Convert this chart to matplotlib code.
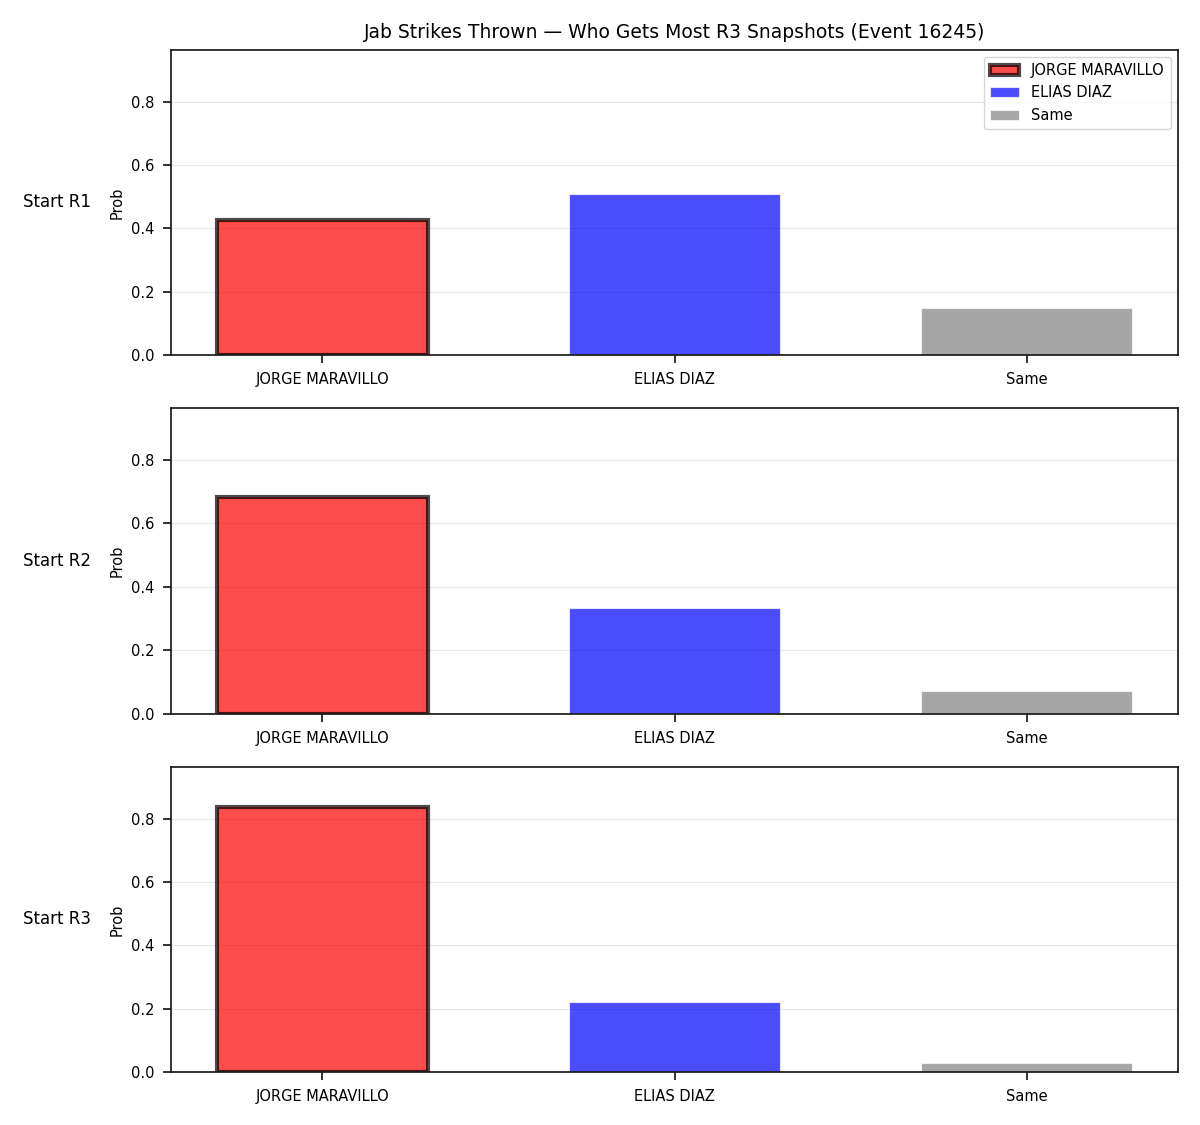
import matplotlib
matplotlib.use("Agg")
import matplotlib.pyplot as plt

categories = ["JORGE MARAVILLO", "ELIAS DIAZ", "Same"]
row_labels = ["Start R1", "Start R2", "Start R3"]
probs_r1 = [0.427, 0.510, 0.150]
probs_r2 = [0.684, 0.333, 0.074]
probs_r3 = [0.838, 0.222, 0.030]
all_probs = [probs_r1, probs_r2, probs_r3]
colors = ["red", "blue", "gray"]
title = "Jab Strikes Thrown \u2014 Who Gets Most R3 Snapshots (Event 16245)"

dark = "#1a1a1a"
fig = plt.figure(figsize=(12, 11.25), dpi=100)
W, H = 1200, 1125
axes_px = [(50, 355), (408, 714), (767, 1072)]
ymax = max(max(p) for p in all_probs) * 1.15

for i, (probs, (top, bot)) in enumerate(zip(all_probs, axes_px)):
    ax = fig.add_axes([171 / W, 1 - bot / H, (1178 - 171) / W, (bot - top) / H])
    x = list(range(len(categories)))
    for j, (xx, v, c, lab) in enumerate(zip(x, probs, colors, categories)):
        if j == 0:
            ax.bar(xx, v, width=0.6, color=c, alpha=0.7, edgecolor="black",
                   linewidth=3, label=lab, zorder=2)
        else:
            ax.bar(xx, v, width=0.6, color=c, alpha=0.7, edgecolor="white",
                   linewidth=0.8, label=lab, zorder=2)
    ax.set_xticks(x)
    ax.set_xticklabels(categories)
    ax.set_ylim(0, ymax)
    ax.set_yticks([0.0, 0.2, 0.4, 0.6, 0.8])
    ax.tick_params(axis="both", labelsize=10.5, length=6, width=1.25,
                   color=dark, labelcolor="black", pad=6)
    for sp in ax.spines.values():
        sp.set_linewidth(1.25)
        sp.set_color(dark)
    ax.set_ylabel("Prob", fontsize=10.5, labelpad=4.5, color="black")
    ax.grid(axis="y", color="#e6e6e6", linewidth=0.8, zorder=0)
    ax.set_axisbelow(True)
    fig.text(23 / W, 1 - ((top + bot) / 2) / H, row_labels[i], fontsize=12,
             ha="left", va="center", color="black")
    if i == 0:
        ax.set_title(title, fontsize=13.5, pad=9, color="black")
        ax.legend(loc="upper right", fontsize=10.5)

fig.savefig("out.png", dpi=100)
